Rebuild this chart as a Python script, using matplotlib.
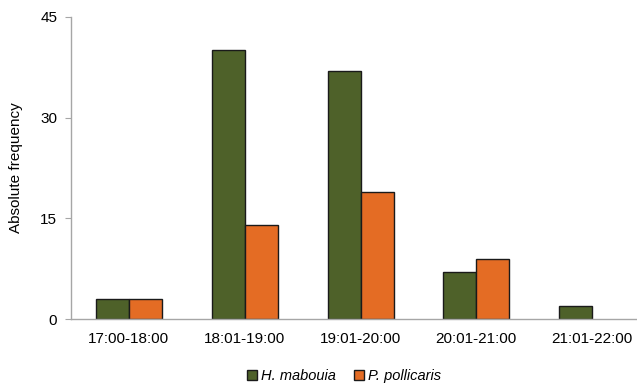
import matplotlib
matplotlib.use("Agg")
import matplotlib.pyplot as plt
import numpy as np

# data
periods = ["17:00-18:00", "18:01-19:00", "19:01-20:00", "20:01-21:00", "21:01-22:00"]
h_mabouia = [3, 40, 37, 7, 2]
p_pollicaris = [3, 14, 19, 9, 0]

plt.rcParams['font.family'] = ['Liberation Sans', 'DejaVu Sans']

fig = plt.figure(figsize=(6.37, 3.84), dpi=100)
ax = fig.add_axes([0.1115, 0.169, 0.909, 0.787])

x = np.arange(len(periods))
w = 0.285
# no outline on empty bars so they don't draw a line over the axis
lw_h = [1 if v > 0 else 0 for v in h_mabouia]
lw_p = [1 if v > 0 else 0 for v in p_pollicaris]
ax.bar(x - w / 2, h_mabouia, w, color="#4e6129", edgecolor="#1a1a1a", linewidth=lw_h,
       label="H. mabouia")
ax.bar(x + w / 2, p_pollicaris, w, color="#e46c24", edgecolor="#1a1a1a", linewidth=lw_p,
       label="P. pollicaris")

ax.set_xlim(-0.5, len(periods) - 0.5)
ax.set_ylim(0, 45)
ax.set_yticks([0, 15, 30, 45])
ax.set_xticks(x)
ax.set_xticklabels(periods)
ax.set_ylabel("Absolute frequency", fontsize=11, labelpad=12)

for s in ["top", "right"]:
    ax.spines[s].set_visible(False)
for s in ["left", "bottom"]:
    ax.spines[s].set_color("#a6a6a6")
    ax.spines[s].set_linewidth(1)
ax.tick_params(axis="y", length=4, color="#a6a6a6", labelsize=11, pad=6)
ax.tick_params(axis="x", length=0, labelsize=11, pad=9)

leg = fig.legend(loc="center", bbox_to_anchor=(0.54, 0.021), ncol=2, frameon=False,
                 prop={"style": "italic", "size": 10.5}, handlelength=0.7, handleheight=0.7,
                 handletextpad=0.3, columnspacing=1.2)

fig.savefig("out.png", dpi=100)
